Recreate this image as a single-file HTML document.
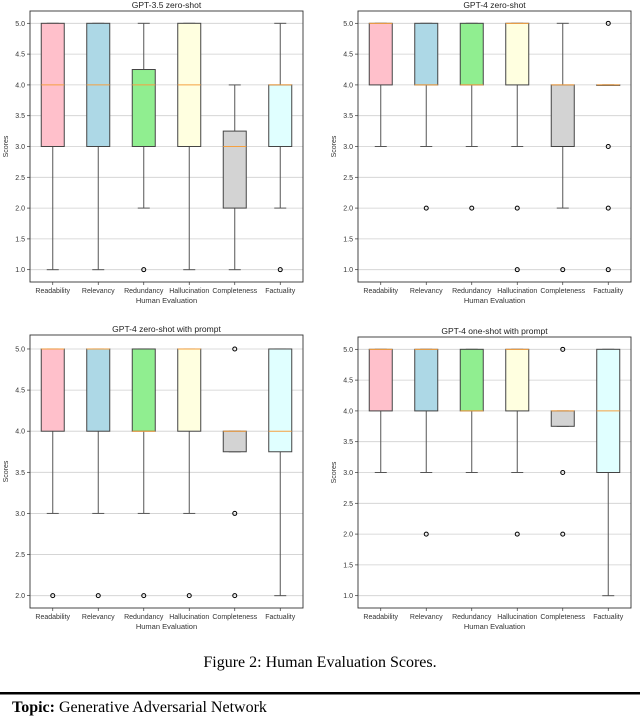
<!DOCTYPE html>
<html><head><meta charset="utf-8">
<style>
html,body{margin:0;padding:0;background:#fff;}
svg{display:block;}
</style></head>
<body>
<svg id="fig" width="640" height="716" viewBox="0 0 640 716" xmlns="http://www.w3.org/2000/svg">
  <text x="320" y="667" text-anchor="middle" font-family="Liberation Serif, serif" font-size="16" fill="#000">Figure 2: Human Evaluation Scores.</text>
  <rect x="0" y="692" width="640" height="2.5" fill="#000"/>
  <text x="12" y="712" font-family="Liberation Serif, serif" font-size="16" fill="#000"><tspan font-weight="bold">Topic:</tspan> Generative Adversarial Network</text>
</svg>
<script>
const categories = ["Readability","Relevancy","Redundancy","Hallucination","Completeness","Factuality"];
const titles = ["GPT-3.5 zero-shot","GPT-4 zero-shot","GPT-4 zero-shot with prompt","GPT-4 one-shot with prompt"];
const yTicks1 = ["1.0","1.5","2.0","2.5","3.0","3.5","4.0","4.5","5.0"];
const yTicks2 = ["2.0","2.5","3.0","3.5","4.0","4.5","5.0"];
// panel 1: GPT-3.5 zero-shot
const p1q1 = [3,3,3,3,2,3];
const p1med = [4,4,4,4,3,4];
const p1q3 = [5,5,4.25,5,3.25,4];
const p1lo = [1,1,2,1,1,2];
const p1hi = [5,5,5,5,4,5];
const p1fl = [[],[],[1],[],[],[1]];
// panel 2: GPT-4 zero-shot
const p2q1 = [4,4,4,4,3,4];
const p2med = [5,4,4,5,4,4];
const p2q3 = [5,5,5,5,4,4];
const p2lo = [3,3,3,3,2,4];
const p2hi = [5,5,5,5,5,4];
const p2fl = [[],[2],[2],[2,1],[1],[5,3,2,1]];
// panel 3: GPT-4 zero-shot with prompt
const p3q1 = [4,4,4,4,3.75,3.75];
const p3med = [5,5,4,5,4,4];
const p3q3 = [5,5,5,5,4,5];
const p3lo = [3,3,3,3,3.75,2];
const p3hi = [5,5,5,5,4,5];
const p3fl = [[2],[2],[2],[2],[5,3,2],[]];
// panel 4: GPT-4 one-shot with prompt
const p4q1 = [4,4,4,4,3.75,3];
const p4med = [5,5,4,5,4,4];
const p4q3 = [5,5,5,5,4,5];
const p4lo = [3,3,3,3,3.75,1];
const p4hi = [5,5,5,5,4,5];
const p4fl = [[],[2],[],[2],[5,3,2],[]];

const colors = ["#ffc0cb","#add8e6","#90ee90","#ffffe0","#d3d3d3","#e0ffff"];
const NS = "http://www.w3.org/2000/svg";
const svg = document.getElementById('fig');
function mk(tag, attrs, parent){
  const e = document.createElementNS(NS, tag);
  for (const k in attrs) e.setAttribute(k, attrs[k]);
  (parent||svg).appendChild(e);
  return e;
}
const panels = [
  {x0:30,x1:303,y0:11,y1:282,ymin:0.8,ymax:5.2,ticks:yTicks1,q1:p1q1,med:p1med,q3:p1q3,lo:p1lo,hi:p1hi,fl:p1fl,title:titles[0]},
  {x0:358,x1:631,y0:11,y1:282,ymin:0.8,ymax:5.2,ticks:yTicks1,q1:p2q1,med:p2med,q3:p2q3,lo:p2lo,hi:p2hi,fl:p2fl,title:titles[1]},
  {x0:30,x1:303,y0:335,y1:608,ymin:1.85,ymax:5.17,ticks:yTicks2,q1:p3q1,med:p3med,q3:p3q3,lo:p3lo,hi:p3hi,fl:p3fl,title:titles[2]},
  {x0:358,x1:631,y0:337,y1:608,ymin:0.8,ymax:5.2,ticks:yTicks1,q1:p4q1,med:p4med,q3:p4q3,lo:p4lo,hi:p4hi,fl:p4fl,title:titles[3]}
];
panels.forEach((p, pi) => {
  const g = mk('g', {});
  
  
  const n = categories.length;
  const step = (p.x1 - p.x0) / n;
  const xs = i => p.x0 + step*(i+0.5);
  const ys = v => p.y1 - (v - p.ymin)/(p.ymax - p.ymin)*(p.y1 - p.y0);
  const font = "Liberation Sans, DejaVu Sans, sans-serif";
  p.ticks.forEach(t => {
    const y = ys(parseFloat(t));
    const gl = mk('line', {x1:p.x0,x2:p.x1,y1:y,y2:y,stroke:'#cfcfcf','stroke-width':0.8}, g);
    
    
    mk('line', {x1:p.x0-3,x2:p.x0,y1:y,y2:y,stroke:'#333','stroke-width':0.7}, g);
    const tl = mk('text', {x:p.x0-5,y:y+2.5,'text-anchor':'end','font-family':font,'font-size':7,fill:'#333'}, g);
    
    
    tl.textContent = t;
  });
  const bw = 23;
  categories.forEach((c, i) => {
    const cx = xs(i);
    const bg = mk('g', {}, g);
    
    
    mk('line', {x1:cx,x2:cx,y1:ys(p.q1[i]),y2:ys(p.lo[i]),stroke:'#555','stroke-width':1}, bg);
    mk('line', {x1:cx,x2:cx,y1:ys(p.q3[i]),y2:ys(p.hi[i]),stroke:'#555','stroke-width':1}, bg);
    mk('line', {x1:cx-6,x2:cx+6,y1:ys(p.lo[i]),y2:ys(p.lo[i]),stroke:'#555','stroke-width':1}, bg);
    mk('line', {x1:cx-6,x2:cx+6,y1:ys(p.hi[i]),y2:ys(p.hi[i]),stroke:'#555','stroke-width':1}, bg);
    const top = ys(p.q3[i]), bot = ys(p.q1[i]);
    mk('rect', {x:cx-bw/2,y:top,width:bw,height:Math.max(bot-top,0.5),fill:colors[i],stroke:'#444','stroke-width':1}, bg);
    const my = ys(p.med[i]);
    mk('line', {x1:cx-bw/2,x2:cx+bw/2,y1:my,y2:my,stroke:'#f5a040','stroke-width':1}, bg);
    p.fl[i].forEach(v => {
      const f = mk('circle', {cx:cx,cy:ys(v),r:2,fill:'none',stroke:'#000','stroke-width':1}, bg);
      
      
    });
    mk('line', {x1:cx,x2:cx,y1:p.y1,y2:p.y1+3,stroke:'#333','stroke-width':0.7}, g);
    const xl = mk('text', {x:cx,y:p.y1+11,'text-anchor':'middle','font-family':font,'font-size':7,fill:'#333'}, g);
    
    
    xl.textContent = c;
  });
  const fr = mk('rect', {x:p.x0,y:p.y0,width:p.x1-p.x0,height:p.y1-p.y0,fill:'none',stroke:'#333','stroke-width':0.9}, g);
  
  
  const tt = mk('text', {x:(p.x0+p.x1)/2,y:p.y0-3,'text-anchor':'middle','font-family':font,'font-size':8.5,fill:'#222'}, g);
  
  
  tt.textContent = p.title;
  const xt = mk('text', {x:(p.x0+p.x1)/2,y:p.y1+21,'text-anchor':'middle','font-family':font,'font-size':7.5,fill:'#333'}, g);
  
  
  xt.textContent = 'Human Evaluation';
  const yx = p.x0 - 22, yy = (p.y0+p.y1)/2;
  const yt = mk('text', {x:yx,y:yy,'text-anchor':'middle','font-family':font,'font-size':7,fill:'#333',transform:'rotate(-90 '+yx+' '+yy+')'}, g);
  
  
  yt.textContent = 'Scores';
});
</script>
</body></html>
